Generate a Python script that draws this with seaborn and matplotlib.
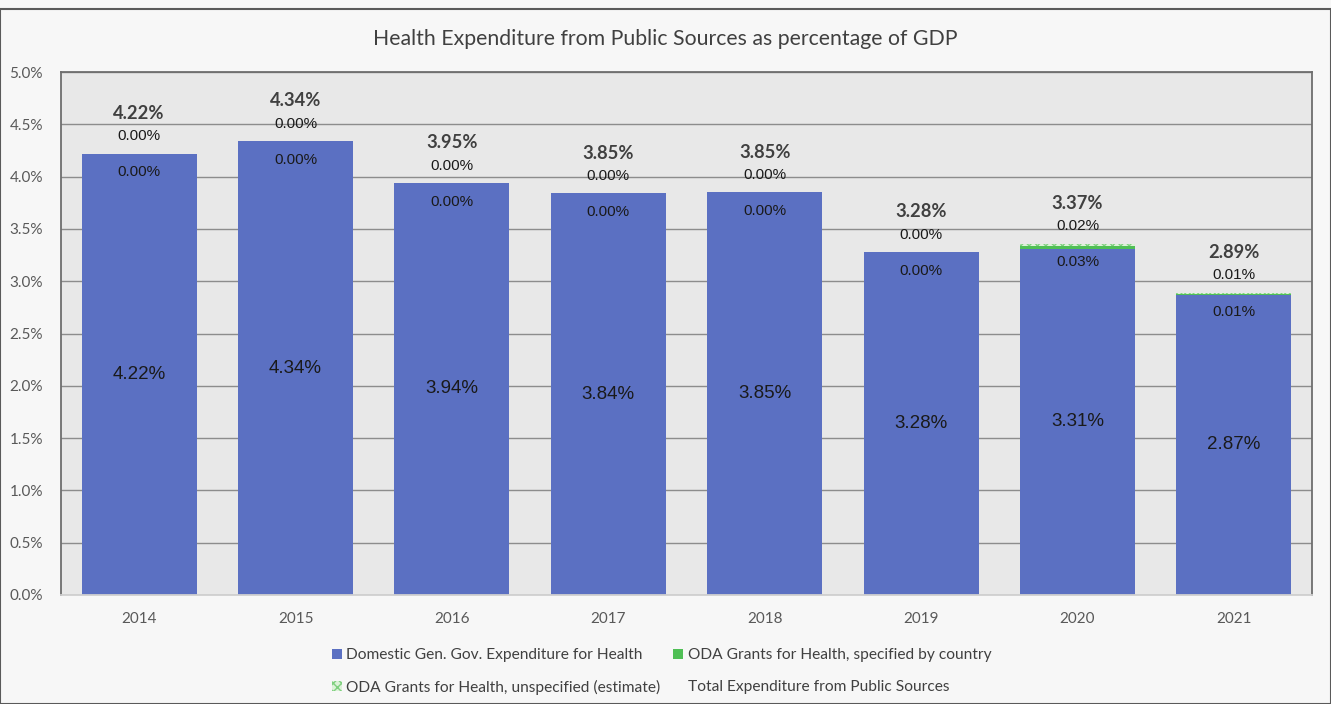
import matplotlib
matplotlib.use("Agg")
import matplotlib.pyplot as plt
import seaborn as sns
import pandas as pd
import numpy as np
from matplotlib.patches import Patch, Rectangle
from matplotlib.ticker import PercentFormatter, MultipleLocator

years = ["2014", "2015", "2016", "2017", "2018", "2019", "2020", "2021"]
domestic = [4.22, 4.34, 3.94, 3.84, 3.85, 3.28, 3.31, 2.87]
oda_specified = [0.00, 0.00, 0.00, 0.00, 0.00, 0.00, 0.03, 0.01]
oda_unspecified = [0.00, 0.00, 0.00, 0.00, 0.00, 0.00, 0.02, 0.01]
total = [4.22, 4.34, 3.95, 3.85, 3.85, 3.28, 3.37, 2.89]

title = "Health Expenditure from Public Sources as percentage of GDP"
series_names = ["Domestic Gen. Gov. Expenditure for Health",
                "ODA Grants for Health, specified by country",
                "ODA Grants for Health, unspecified (estimate)",
                "Total Expenditure from Public Sources"]

C_DOM = "#5b70c2"
C_SPEC = "#4fbf55"
C_UNSPEC = "#dcf2d8"
C_HATCH = "#7fd07f"

df = pd.DataFrame({"year": years, "dom": domestic, "spec": oda_specified,
                   "unspec": oda_unspecified})
df["lvl2"] = df["dom"] + df["spec"]
df["lvl3"] = df["lvl2"] + df["unspec"]

sns.set_theme(style="white")
plt.rcParams["font.family"] = ["Lato", "DejaVu Sans"]
plt.rcParams["hatch.linewidth"] = 1.0

fig = plt.figure(figsize=(13.31, 7.04), dpi=100, facecolor="#f7f7f7")
ax = fig.add_axes([61 / 1331, 1 - 595 / 704, (1312 - 61) / 1331, (595 - 72) / 704])
ax.set_facecolor("#e8e8e8")

w = 0.735
sns.barplot(data=df, x="year", y="lvl3", color=C_UNSPEC, width=w, ax=ax,
            saturation=1, edgecolor=C_HATCH, linewidth=0, hatch="xxxx")
sns.barplot(data=df, x="year", y="lvl2", color=C_SPEC, width=w, ax=ax,
            saturation=1, edgecolor="none", linewidth=0)
sns.barplot(data=df, x="year", y="dom", color=C_DOM, width=w, ax=ax,
            saturation=1, edgecolor="none", linewidth=0)

ax.set_ylim(0, 5.0)
ax.set_xlim(-0.5, len(years) - 0.5)
ax.yaxis.set_major_locator(MultipleLocator(0.5))
ax.yaxis.set_major_formatter(PercentFormatter(decimals=1))
ax.grid(axis="y", color="#8c8c8c", linewidth=1.0)
ax.set_axisbelow(True)
ax.set_xlabel("")
ax.set_ylabel("")
ax.tick_params(axis="both", length=0, labelsize=11, labelcolor="#595959")
ax.tick_params(axis="x", pad=12)
ax.tick_params(axis="y", pad=13)
for s in ["left", "top", "right"]:
    ax.spines[s].set_color("#6e6e6e")
    ax.spines[s].set_linewidth(1.3)
ax.spines["bottom"].set_color("#d0d0d0")
ax.spines["bottom"].set_linewidth(1.3)

lab_font = ["Liberation Sans", "DejaVu Sans"]
for i in range(len(years)):
    ax.text(i, domestic[i] / 2, f"{domestic[i]:.2f}%", ha="center", va="center",
            fontsize=13.5, color="#1a1a1a", family=lab_font)
    top = df["lvl3"][i]
    ax.text(i, top - 0.18, f"{oda_specified[i]:.2f}%", ha="center", va="center",
            fontsize=11, color="#1a1a1a", family=lab_font)
    ax.text(i, top + 0.165, f"{oda_unspecified[i]:.2f}%", ha="center", va="center",
            fontsize=11, color="#1a1a1a", family=lab_font)
    ax.text(i, top + 0.385, f"{total[i]:.2f}%", ha="center", va="center",
            fontsize=13.2, color="#404040", fontweight="bold")

fig.text(0.5, 1 - 39 / 704, title, ha="center", va="center", fontsize=15.3,
         color="#404040")

handles = [Patch(facecolor=C_DOM, edgecolor="none"),
           Patch(facecolor=C_UNSPEC, edgecolor=C_HATCH, linewidth=0, hatch="xxxx"),
           Patch(facecolor=C_SPEC, edgecolor="none"),
           Patch(facecolor="none", edgecolor="none")]
labels = [series_names[0], series_names[2], series_names[1], series_names[3]]
leg = fig.legend(handles, labels, loc="center", bbox_to_anchor=(0.497, 1 - 671.5 / 704),
                 ncol=2, frameon=False, fontsize=11.2, handlelength=0.65,
                 handleheight=0.65, handletextpad=0.3, columnspacing=0.8,
                 labelspacing=1.1)
for t in leg.get_texts():
    t.set_color("#404040")

fig.patches.append(Rectangle((0, 0), 1, 1 - 9 / 704, transform=fig.transFigure,
                             fill=False, edgecolor="#5a5a5a", linewidth=1.5))

fig.savefig("out.png", dpi=100, facecolor=fig.get_facecolor())
